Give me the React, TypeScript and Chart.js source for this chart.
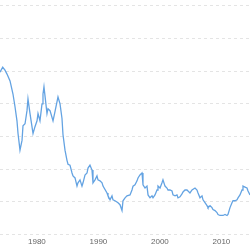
import React, { useEffect, useRef } from "react";
import { Chart, registerables } from "chart.js";

Chart.register(...registerables);

const years: number[] = [
  1974.0, 1974.44, 1974.81, 1975.14, 1975.63, 1976.11, 1976.44, 1976.76, 1976.93, 1977.25,
  1977.58, 1977.74, 1978.07, 1978.39, 1978.55, 1978.88, 1979.2, 1979.37, 1979.69, 1980.02,
  1980.18, 1980.5, 1980.83, 1980.99, 1981.15, 1981.64, 1981.8, 1982.13, 1982.62, 1982.94,
  1983.43, 1983.76, 1984.08, 1984.24, 1984.57, 1984.89, 1985.06, 1985.38, 1985.71, 1985.87,
  1986.2, 1986.52, 1986.68, 1987.01, 1987.33, 1987.5, 1987.82, 1988.15, 1988.31, 1988.63,
  1988.96, 1989.12, 1989.45, 1989.77, 1989.93, 1990.26, 1990.59, 1990.75, 1991.4, 1991.56,
  1991.89, 1992.21, 1992.37, 1992.7, 1993.19, 1993.51, 1993.84, 1994.0, 1994.33, 1994.65,
  1995.14, 1995.46, 1995.63, 1995.95, 1996.28, 1996.44, 1996.76, 1997.09, 1997.25, 1997.58,
  1997.9, 1998.07, 1998.39, 1998.72, 1998.88, 1999.2, 1999.53, 1999.69, 2000.02, 2000.34,
  2000.5, 2000.83, 2001.15, 2001.32, 2001.64, 2001.97, 2002.13, 2002.46, 2002.78, 2002.94,
  2003.27, 2003.59, 2003.76, 2004.08, 2004.41, 2004.57, 2004.89, 2005.22, 2005.38, 2005.71,
  2006.03, 2006.2, 2006.52, 2006.85, 2007.01, 2007.33, 2007.66, 2007.82, 2008.15, 2008.47,
  2008.63, 2008.96, 2009.28, 2009.45, 2009.77, 2010.1, 2010.26, 2010.59, 2010.91, 2011.07,
  2011.4, 2011.72, 2011.89, 2012.21, 2012.54, 2012.7, 2013.02, 2013.35, 2013.51, 2013.84,
  2014.16, 2014.33, 2014.65,
];

const values: number[] = [
  4.97, 5.12, 5.03, 4.91, 4.7, 4.3, 3.91, 3.48, 3.09, 2.58,
  2.88, 3.33, 3.39, 3.79, 4.15, 3.7, 3.3, 3.09, 3.3, 3.48,
  3.7, 3.48, 4.0, 4.3, 4.52, 3.7, 3.85, 3.79, 3.48, 3.76,
  4.21, 4.0, 3.55, 3.06, 2.58, 2.27, 2.15, 2.12, 1.88, 1.79,
  1.73, 1.48, 1.58, 1.67, 1.48, 1.58, 1.82, 1.88, 2.03, 2.12,
  1.97, 1.58, 1.67, 1.79, 1.67, 1.64, 1.58, 1.48, 1.27, 1.18,
  1.06, 1.18, 1.06, 1.03, 0.97, 0.91, 0.73, 1.03, 1.12, 1.18,
  1.21, 1.36, 1.48, 1.52, 1.64, 1.73, 1.82, 1.88, 1.52, 1.42,
  1.48, 1.21, 1.12, 1.18, 1.12, 1.21, 1.36, 1.48, 1.42, 1.58,
  1.67, 1.48, 1.42, 1.36, 1.36, 1.33, 1.21, 1.18, 1.21, 1.12,
  1.15, 1.24, 1.3, 1.36, 1.36, 1.33, 1.27, 1.36, 1.36, 1.42,
  1.36, 1.27, 1.12, 1.18, 1.06, 0.97, 0.88, 0.82, 0.88, 0.82,
  0.76, 0.73, 0.67, 0.61, 0.58, 0.58, 0.58, 0.61, 0.58, 0.61,
  0.82, 0.97, 1.03, 1.03, 1.06, 1.12, 1.21, 1.36, 1.48, 1.45,
  1.42, 1.33, 1.21,
];

const xTickYears: number[] = [1980, 1990, 2000, 2010];
const yGridValues: number[] = [0, 1, 2, 3, 4, 5, 6, 7];

export default function App() {
  const canvasRef = useRef<HTMLCanvasElement | null>(null);

  useEffect(() => {
    const canvas = canvasRef.current;
    if (!canvas) return;
    const chart = new Chart(canvas, {
      type: "line",
      data: {
        datasets: [
          {
            data: years.map((y, i) => ({ x: y, y: values[i] })),
            borderColor: "#64a3e2",
            borderWidth: 1.3,
            pointRadius: 0,
            tension: 0,
            fill: false,
          },
        ],
      },
      options: {
        animation: false,
        responsive: true,
        maintainAspectRatio: false,
        layout: { padding: 0 },
        plugins: { legend: { display: false }, tooltip: { enabled: false } },
        scales: {
          x: {
            type: "linear",
            min: 1974.0,
            max: 2014.65,
            afterBuildTicks: (axis: any) => {
              axis.ticks = xTickYears.map((v) => ({ value: v }));
            },
            grid: { display: false, drawTicks: false },
            border: { display: false },
            ticks: {
              padding: 3,
              color: "#666666",
              font: { size: 8, family: "Arial, 'Liberation Sans', sans-serif" },
              maxRotation: 0,
              autoSkip: false,
              callback: (v: any) => String(v),
            },
          },
          y: {
            type: "linear",
            min: 0,
            max: 7.18,
            afterBuildTicks: (axis: any) => {
              axis.ticks = yGridValues.map((v) => ({ value: v }));
            },
            grid: { color: "#e4e4e4", lineWidth: 1, drawTicks: false },
            border: { display: false, dash: [3, 3] },
            ticks: { display: false },
          },
        },
      },
    });
    return () => chart.destroy();
  }, []);

  return (
    <div style={{ position: "fixed", left: 0, top: 0, width: 250, height: 250, background: "#fff" }}>
      <canvas ref={canvasRef} />
    </div>
  );
}
